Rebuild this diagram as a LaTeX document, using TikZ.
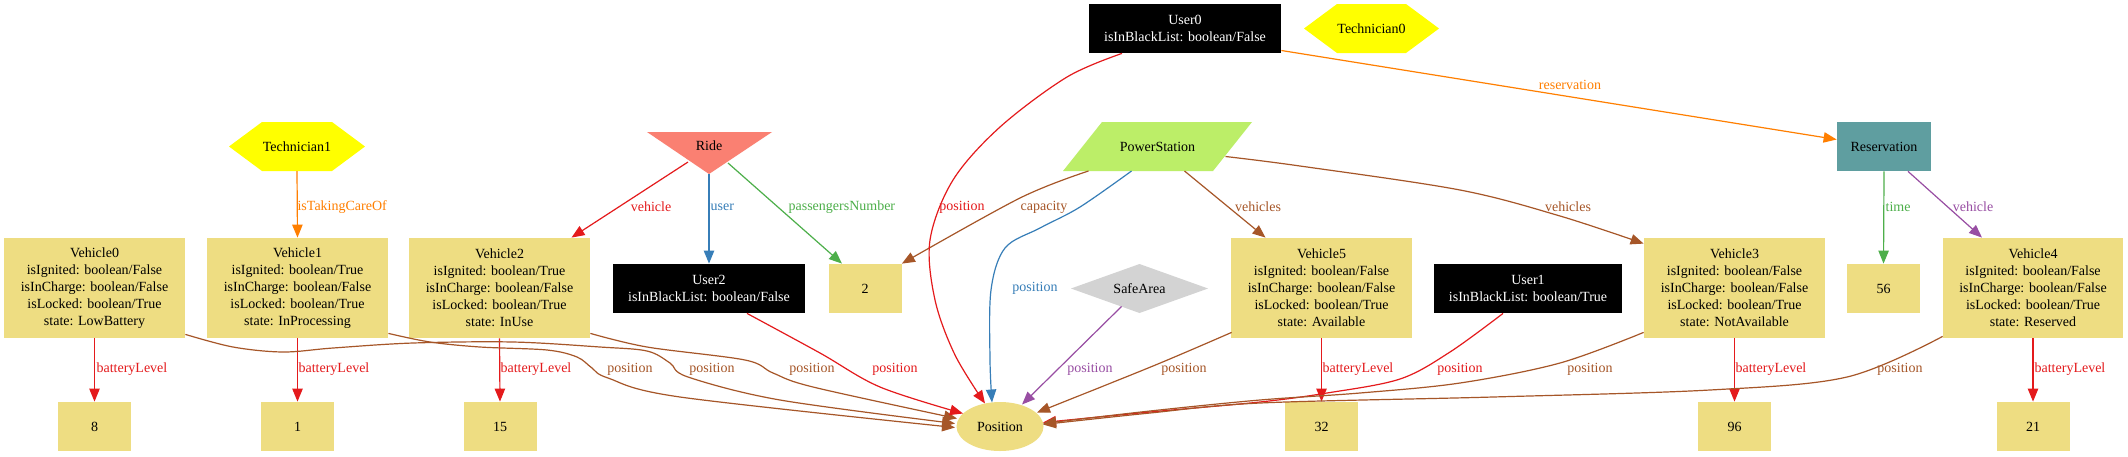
\documentclass[tikz,border=0pt]{standalone}
\usepackage{fontspec}
\setmainfont{Liberation Serif}
\usetikzlibrary{arrows.meta,shapes.geometric,calc}
\pgfdeclarelayer{bg}
\pgfsetlayers{bg,main}
\definecolor{gold}{HTML}{EEDD82}
\definecolor{cred}{HTML}{E41A1C}
\definecolor{cblue}{HTML}{377EB8}
\definecolor{cgreen}{HTML}{4DAF4A}
\definecolor{cpurple}{HTML}{984EA3}
\definecolor{corange}{HTML}{FF7F00}
\definecolor{cbrown}{HTML}{A65628}
\definecolor{salmonc}{HTML}{FA8072}
\definecolor{olivec}{HTML}{BCEE68}
\definecolor{cadetc}{HTML}{5F9EA0}
\definecolor{grayc}{HTML}{D3D3D3}
\definecolor{yellowc}{HTML}{FFFF00}
\newcommand\nf{\fontsize{7}{8.5}\selectfont}
\newcommand\hexfill[3]{\fill[yellowc] ($(#1)+(-#2,0)$) -- ($(#1)+(-#2+#3,-24.5)$) -- ($(#1)+(#2-#3,-24.5)$) -- ($(#1)+(#2,0)$) -- ($(#1)+(#2-#3,24.5)$) -- ($(#1)+(-#2+#3,24.5)$) -- cycle;}
\tikzset{
  attr/.style={rectangle, fill=gold, minimum width=90.5pt, minimum height=50pt, inner sep=0pt, align=center},
  numbox/.style={rectangle, fill=gold, minimum width=36.5pt, minimum height=24.5pt, inner sep=0pt},
  usr/.style={rectangle, fill=black, text=white, minimum height=24.5pt, inner sep=0pt, align=center},
  plain/.style={inner sep=0pt},
  lb/.style={font=\nf, inner sep=0pt},
  ar/.style={-{Triangle[length=6.5pt,width=5.2pt]}, line width=0.6pt},
  sm/.style={smooth, tension=0.55}
}
\begin{document}
\begin{tikzpicture}[x=0.5pt,y=-0.5pt,font=\nf]
\useasboundingbox (0,0) rectangle (2128,456);
% nodes
\node[attr] (v0) at (94.5,288) {Vehicle0\\isIgnited: boolean/False\\isInCharge: boolean/False\\isLocked: boolean/True\\state: LowBattery};
\node[attr] (v1) at (297.5,288) {Vehicle1\\isIgnited: boolean/True\\isInCharge: boolean/False\\isLocked: boolean/True\\state: InProcessing};
\node[attr] (v2) at (499.5,288) {Vehicle2\\isIgnited: boolean/True\\isInCharge: boolean/False\\isLocked: boolean/True\\state: InUse};
\node[attr] (v5) at (1321.5,288) {Vehicle5\\isIgnited: boolean/False\\isInCharge: boolean/False\\isLocked: boolean/True\\state: Available};
\node[attr] (v3) at (1734.5,288) {Vehicle3\\isIgnited: boolean/False\\isInCharge: boolean/False\\isLocked: boolean/True\\state: NotAvailable};
\node[attr, minimum width=90pt] (v4) at (2033,288) {Vehicle4\\isIgnited: boolean/False\\isInCharge: boolean/False\\isLocked: boolean/True\\state: Reserved};
\node[numbox] (n8) at (94.5,426.5) {8};
\node[numbox] (n1) at (297.5,426.5) {1};
\node[numbox] (n15) at (500,426.5) {15};
\node[numbox] (n32) at (1321.5,426.5) {32};
\node[numbox] (n96) at (1734.5,426.5) {96};
\node[numbox] (n21) at (2033,426.5) {21};
\node[numbox] (n2) at (865,288.5) {2};
\node[numbox] (n56) at (1883.5,288.5) {56};
\node[usr, minimum width=96pt] (u0) at (1185,28.5) {User0\\isInBlackList: boolean/False};
\node[usr, minimum width=96pt] (u2) at (709,288.5) {User2\\isInBlackList: boolean/False};
\node[usr, minimum width=94pt] (u1) at (1528,288.5) {User1\\isInBlackList: boolean/True};
\node[plain] (t1) at (297,146.5) {Technician1};
\node[plain] (t0) at (1371.5,28.5) {Technician0};
\node[plain] (ride) at (709,146) {Ride};
\node[plain] (ps) at (1157.5,146.5) {PowerStation};
\node[rectangle, fill=cadetc, minimum width=47pt, minimum height=24.5pt, inner sep=0pt] (res) at (1884,146.5) {Reservation};
\node[plain] (sa) at (1139.5,288.5) {SafeArea};
\node[ellipse, fill=gold, minimum width=43.5pt, minimum height=24.5pt, inner sep=0pt] (pos) at (1000,426.5) {Position};
% shapes behind text
\begin{pgfonlayer}{bg}
\fill[white] (0,0) rectangle (2128,456);
\hexfill{t1}{68}{33}
\hexfill{t0}{67.5}{33}
\fill[salmonc] ($(ride)+(-62,-14)$) -- ($(ride)+(63,-14)$) -- ($(ride)+(0,28)$) -- cycle;
\fill[olivec] ($(ps)+(-55.5,-24.5)$) -- ($(ps)+(94.5,-24.5)$) -- ($(ps)+(55.5,24.5)$) -- ($(ps)+(-94.5,24.5)$) -- cycle;
\fill[grayc] ($(sa)+(-68.5,0)$) -- ($(sa)+(0,-24.5)$) -- ($(sa)+(68.5,0)$) -- ($(sa)+(0,24.5)$) -- cycle;
\end{pgfonlayer}
% anchor points
\coordinate (rideL) at ($(ride)+(-21,16)$);
\coordinate (rideB) at ($(ride)+(0,28)$);
\coordinate (rideR) at ($(ride)+(19,17)$);
\coordinate (psA) at ($(ps)+(-69,24.5)$);
\coordinate (psB) at ($(ps)+(-26,24.5)$);
\coordinate (psC) at ($(ps)+(27,24.5)$);
\coordinate (psD) at ($(ps)+(68,10)$);
\coordinate (saB) at ($(sa)+(-18,18)$);
% edges top
\draw[ar,corange] (t1.south |- 0,171) -- (v1.north) node[lb,anchor=west] at (297,207) {isTakingCareOf};
\draw[ar,cred] (rideL) -- ($(v2.north)+(72,0)$) node[lb] at (651,207) {vehicle};
\draw[ar,cblue] (rideB) -- (u2.north) node[lb,anchor=west] at (710,207) {user};
\draw[ar,cgreen] (rideR) -- ($(n2.north)+(-23,0)$) node[lb,anchor=west] at (788,207) {passengersNumber};
\draw[ar,cbrown] plot[sm] coordinates {(psA) (1020,198) (n2.north east)} node[lb] at (1044,207) {capacity};
\draw[ar,cblue] plot[sm] coordinates {(psB) (1080,207) (1040,228) (1005,248) (991,290) (990,360) ($(pos)+(-8,-24)$)} node[lb] at (1035,288) {position};
\draw[ar,cbrown] (psC) -- ($(v5.north)+(-56,0)$) node[lb] at (1258,207) {vehicles};
\draw[ar,cbrown] plot[sm] coordinates {(psD) (1300,166) (1460,190) (1560,216) ($(v3.north west)+(0,6)$)} node[lb] at (1568,207) {vehicles};
\draw[ar,corange] ($(u0.east)+(0,22)$) -- ($(res.west)+(0,-7)$) node[lb] at (1570,85) {reservation};
\draw[ar,cred] plot[sm] coordinates {($(u0.south)+(-63,0)$) (1067,77) (1000,127) (953,180) (930,240) (935,300) (955,355) ($(pos)+(-15,-23)$)} node[lb] at (962,207) {position};
\draw[ar,cgreen] (res.south) -- (n56.north) node[lb,anchor=west] at (1885,207) {time};
\draw[ar,cpurple] ($(res.south)+(24,0)$) -- ($(v4.north)+(-51,0)$) node[lb] at (1973,207) {vehicle};
% battery levels
\draw[ar,cred] (v0.south) -- (n8.north) node[lb,anchor=west] at (96,369) {batteryLevel};
\draw[ar,cred] (v1.south) -- (n1.north) node[lb,anchor=west] at (298,369) {batteryLevel};
\draw[ar,cred] (v2.south) -- (n15.north) node[lb,anchor=west] at (500,369) {batteryLevel};
\draw[ar,cred] (v5.south) -- (n32.north) node[lb,anchor=west] at (1322,369) {batteryLevel};
\draw[ar,cred] (v3.south) -- (n96.north) node[lb,anchor=west] at (1735,369) {batteryLevel};
\draw[ar,cred] (v4.south) -- (n21.north) node[lb,anchor=west] at (2034,369) {batteryLevel};
% positions
\draw[ar,cbrown] plot[sm] coordinates {($(v0.south east)+(0,-4)$) (233,347) (283,352) (333,348) (413,343) (513,342) (600,347) (647,351) (670,363) (688,377) (780,400) ($(pos)+(-45,-3)$)} node[lb] at (712,369) {position};
\draw[ar,cbrown] plot[sm] coordinates {($(v1.south east)+(0,-5)$) (430,342) (480,347) (547,350) (577,357) (592,368) (608,378) (680,397) ($(pos)+(-45,1)$)} node[lb] at (630,369) {position};
\draw[ar,cbrown] plot[sm] coordinates {($(v2.south east)+(0,-5)$) (647,347) (745,360) (773,373) (813,387) ($(pos)+(-43,-8)$)} node[lb] at (812,369) {position};
\draw[ar,cred] plot[sm] coordinates {($(u2.south)+(38,0)$) (820,353) (880,387) ($(pos)+(-37,-13)$)} node[lb] at (895,369) {position};
\draw[ar,cpurple] (saB) -- ($(pos)+(22,-22)$) node[lb] at (1090,369) {position};
\draw[ar,cbrown] plot[sm] coordinates {($(v5.south west)+(1,-6)$) (1153,366) ($(pos)+(37,-14)$)} node[lb] at (1184,369) {position};
\draw[ar,cred] plot[sm] coordinates {($(u1.south)+(-25,0)$) (1450,352) (1400,379) (1327,393) (1260,402) (1150,412) ($(pos)+(43,-4)$)} node[lb] at (1460,369) {position};
\draw[ar,cbrown] plot[sm] coordinates {($(v3.south west)+(0,-6)$) (1560,363) (1460,383) (1360,393) (1260,400) (1150,411) ($(pos)+(43,-3)$)} node[lb] at (1590,369) {position};
\draw[ar,cbrown] plot[sm] coordinates {($(v4.south west)+(0,-2)$) (1847,377) (1710,390) (1493,397) (1260,403) (1150,413) ($(pos)+(43,-2)$)} node[lb] at (1900,369) {position};
\end{tikzpicture}
\end{document}
